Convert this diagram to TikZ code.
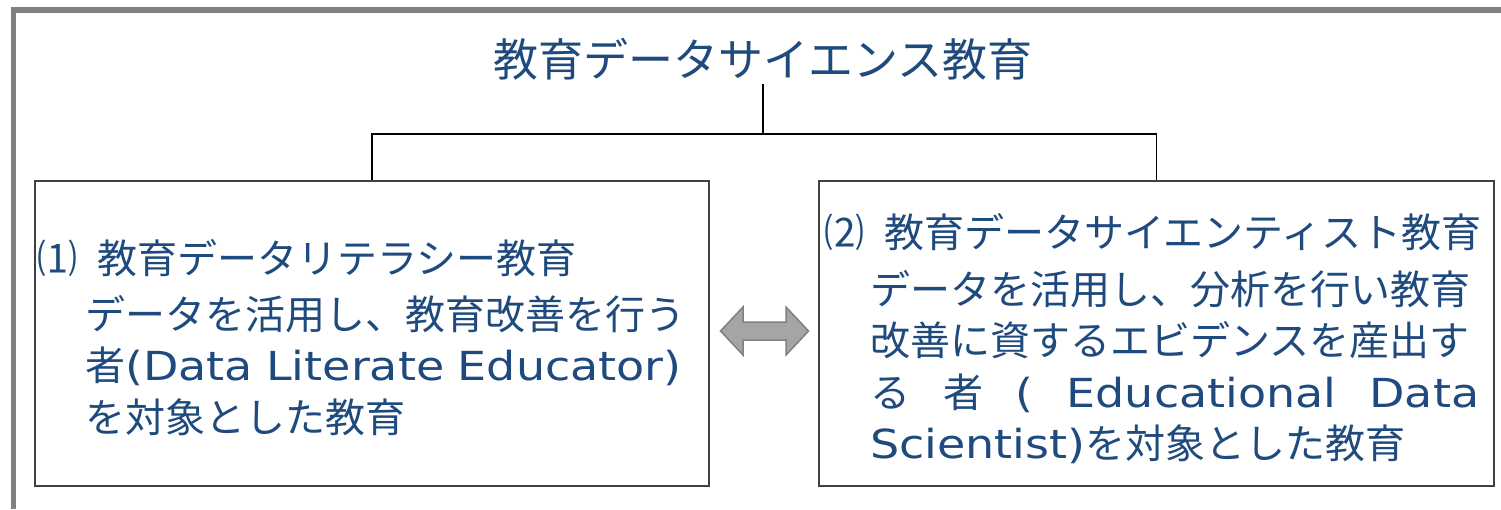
\documentclass[tikz,border=0pt]{standalone}
\usepackage{fontspec}
\setmainfont{Noto Sans CJK JP}
\newfontfamily\lat[FakeStretch=1.15]{DejaVu Sans}
\definecolor{txt}{HTML}{1F4A7E}
\definecolor{framegray}{HTML}{808080}
\definecolor{boxline}{HTML}{404040}
\definecolor{arrfill}{HTML}{A5A5A5}
\definecolor{arrline}{HTML}{808080}
\tikzset{
  titletext/.style={text=txt, font=\fontsize{45}{52}\selectfont, inner sep=0pt, outer sep=4pt},
  box/.style={draw=boxline, line width=1.8pt, minimum height=305pt, inner sep=0pt},
  body/.style={text=txt, anchor=base west, inner sep=0pt, text width=680pt, align=left,
               font=\fontsize{40}{51.5}\selectfont},
  conn/.style={draw=black, line width=1.3pt},
  dblarrow/.style={draw=arrline, fill=arrfill, line width=1.5pt, line join=miter},
}
\begin{document}
\begin{tikzpicture}[x=1pt,y=-1pt]
\useasboundingbox (0,0) rectangle (1501,509);
% outer frame (top and left edges visible)
\draw[framegray, line width=5.5pt, line join=miter] (13.5,509) -- (13.5,10) -- (1501,10);

% title
\node[titletext] (title) at (763,59) {教育データサイエンス教育};

% boxes
\node[box, minimum width=674pt] (lbox) at (372,333.5) {};
\node[box, minimum width=675pt] (rbox) at (1156.5,333.5) {};

% connectors
\coordinate (j) at (763,134);
\draw[conn] (title.south) -- (j);
\draw[conn] (lbox.north) |- (j) -| (rbox.north);

% texts
\node[body] (ltext) at (37,273) {⑴\hspace{20pt}教育データリテラシー教育\\[4.5pt]
\hspace*{48pt}データを活用し、教育改善を行う\\
\hspace*{48pt}者{\lat(Data Literate Educator)}\\
\hspace*{48pt}を対象とした教育};

\node[body] (rtext) at (824,247) {⑵\hspace{20pt}教育データサイエンティスト教育\\[5.5pt]
\hspace*{46pt}データを活用し、分析を行い教育\\
\hspace*{46pt}改善に資するエビデンスを産出す\\
\hspace*{46pt}\makebox[609pt][l]{る\hfill 者\hfill{\lat(}\hfill{\lat Educational}\hfill{\lat Data}}\\
\hspace*{46pt}{\lat Scientist)}を対象とした教育};

% double arrow between the boxes
\draw[dblarrow] (720.5,331) -- (743,307) -- (743,322) -- (786,322) -- (786,307)
  -- (808.5,331) -- (786,355) -- (786,340) -- (743,340) -- (743,355) -- cycle;
\end{tikzpicture}
\end{document}
